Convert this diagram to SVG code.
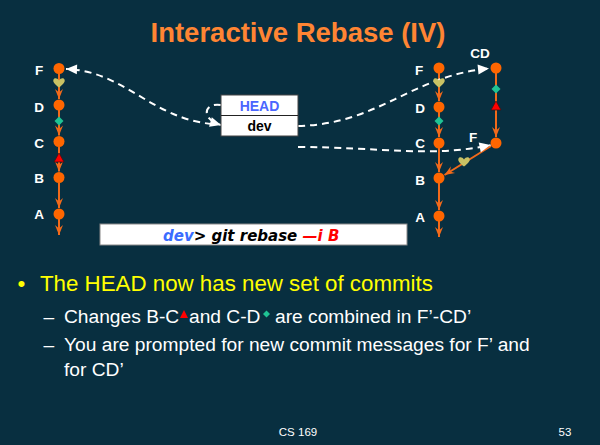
<svg xmlns="http://www.w3.org/2000/svg" width="600" height="445" viewBox="0 0 600 445">
<defs>
<marker id="oa" viewBox="-11 -5 12 10" refX="0" refY="0" markerWidth="12" markerHeight="10" markerUnits="userSpaceOnUse" orient="auto">
<path d="M-10,-4 L0,0 L-10,4 L-6.5,0 Z" fill="#f26a1b"/>
</marker>
<marker id="wa" viewBox="-12 -6 13 12" refX="0" refY="0" markerWidth="13" markerHeight="12" markerUnits="userSpaceOnUse" orient="auto">
<path d="M-11,-5 L0,0 L-11,5 Z" fill="#ffffff"/>
</marker>
<path id="heart" d="M0,4.5 C-4,1.5 -6.5,-1 -5.5,-3.5 C-4.5,-5.5 -1.5,-5 0,-2.5 C1.5,-5 4.5,-5.5 5.5,-3.5 C6.5,-1 4,1.5 0,4.5 Z" fill="#c9c264"/>
<path id="diam" d="M0,-4.5 L4.5,0 L0,4.5 L-4.5,0 Z" fill="#1fc394"/>
<path id="tri" d="M0,-5 L5,4 L-5,4 Z" fill="#ff0000" stroke="#4a1010" stroke-width="0.8"/>
</defs>
<style>
.e{stroke:#f26a1b;stroke-width:2;fill:none;marker-end:url(#oa)}
.n{fill:#ff6600}
.lb{font-family:"Liberation Sans",Arial,sans-serif;font-weight:bold;font-size:13.5px;fill:#ffffff;text-anchor:middle}
.d{stroke:#ffffff;stroke-width:2;fill:none;stroke-dasharray:7 5;marker-end:url(#wa)}
.t{font-family:"Liberation Sans",Arial,sans-serif;fill:#ffffff}
.s{font-size:19.2px}
</style>
<rect width="600" height="445" fill="#082f40"/>
<text x="298" y="42" font-family="Liberation Sans,Arial,sans-serif" font-weight="bold" font-size="27.5" fill="#ff8533" text-anchor="middle">Interactive Rebase (IV)</text>

<g id="connectors">
<line class="e" x1="59" y1="73" x2="59" y2="99"/>
<line class="e" x1="59" y1="110" x2="59" y2="135.5"/>
<line class="e" x1="59" y1="146.5" x2="59" y2="171.5"/>
<line class="e" x1="59" y1="182.5" x2="59" y2="208"/>
<line class="e" x1="59" y1="219" x2="59" y2="235"/>
<line class="e" x1="439" y1="73" x2="439" y2="101"/>
<line class="e" x1="439" y1="112" x2="439" y2="137"/>
<line class="e" x1="439" y1="148" x2="439" y2="172"/>
<line class="e" x1="439" y1="183" x2="439" y2="210"/>
<line class="e" x1="439" y1="221" x2="439" y2="237"/>
<line class="e" x1="496" y1="73" x2="496" y2="137"/>
<line class="e" x1="491" y1="146" x2="444.5" y2="175"/>
<path class="d" d="M212,124 C150,118 125,71 66,69"/>
<path class="d" d="M221,105 C204,102 200,119 221,125"/>
<path class="d" d="M298,126 C380,124 410,76 489,68.5"/>
<path class="d" d="M298,147 C380,147 430,158 490.5,145"/>
<use href="#heart" x="59" y="83"/>
<use href="#diam" x="59" y="121"/>
<use href="#tri" x="59" y="158"/>
<use href="#heart" x="439" y="83"/>
<use href="#diam" x="439" y="121"/>
<use href="#diam" x="496" y="89"/>
<use href="#tri" x="496" y="106"/>
<use href="#heart" x="464" y="162"/>
</g>

<g id="node-F-left"><circle class="n" cx="59" cy="68.5" r="5.5"/><text class="lb" x="39" y="75">F</text></g>
<g id="node-D-left"><circle class="n" cx="59" cy="105" r="5.5"/><text class="lb" x="39" y="112">D</text></g>
<g id="node-C-left"><circle class="n" cx="59" cy="141.5" r="5.5"/><text class="lb" x="39" y="148">C</text></g>
<g id="node-B-left"><circle class="n" cx="59" cy="177.5" r="5.5"/><text class="lb" x="39" y="183">B</text></g>
<g id="node-A-left"><circle class="n" cx="59" cy="214" r="5.5"/><text class="lb" x="39" y="219">A</text></g>

<g id="node-F-right"><circle class="n" cx="439" cy="68" r="5.5"/><text class="lb" x="419" y="75">F</text></g>
<g id="node-D-right"><circle class="n" cx="439" cy="107" r="5.5"/><text class="lb" x="420" y="113">D</text></g>
<g id="node-C-right"><circle class="n" cx="439" cy="143" r="5.5"/><text class="lb" x="420" y="148">C</text></g>
<g id="node-B-right"><circle class="n" cx="439" cy="178" r="5.5"/><text class="lb" x="420" y="185">B</text></g>
<g id="node-A-right"><circle class="n" cx="439" cy="216" r="5.5"/><text class="lb" x="420" y="222">A</text></g>
<g id="node-CD"><circle class="n" cx="496" cy="68" r="5.5"/><text class="lb" x="480" y="58">CD</text></g>
<g id="node-F-new"><circle class="n" cx="496" cy="143" r="5.5"/><text class="lb" x="473" y="142">F</text></g>

<g id="node-HEAD-dev">
<rect x="221" y="95" width="77" height="41" fill="#ffffff" stroke="#444444" stroke-width="1"/>
<line x1="221" y1="115.5" x2="298" y2="115.5" stroke="#222222" stroke-width="1"/>
<text x="259.5" y="111" font-family="Liberation Sans,Arial,sans-serif" font-weight="bold" font-size="14" fill="#4a66ff" text-anchor="middle">HEAD</text>
<text x="259.5" y="131" font-family="Liberation Sans,Arial,sans-serif" font-weight="bold" font-size="14" fill="#000000" text-anchor="middle">dev</text>
</g>

<g id="command">
<rect x="100" y="224" width="307" height="21" fill="#ffffff" stroke="#888888" stroke-width="1"/>
<text x="163" y="241" font-family="DejaVu Sans,sans-serif" font-weight="bold" font-style="italic" font-size="15"><tspan fill="#3a6cff">dev</tspan><tspan fill="#000000">&gt; git rebase </tspan><tspan fill="#ff0000">—i B</tspan></text>
</g>

<g id="bullets">
<text x="17.5" y="291" font-family="Liberation Sans,Arial,sans-serif" font-size="22.3" fill="#ffff00">•</text>
<text x="40" y="291" font-family="Liberation Sans,Arial,sans-serif" font-size="22.3" fill="#ffff00">The HEAD now has new set of commits</text>
<text class="t s" x="43.5" y="323">–</text>
<text class="t s" x="64" y="323">Changes B-C</text>
<path d="M184,310 L188,318 L180,318 Z" fill="#ff0000"/>
<text class="t s" x="189" y="323">and C-D</text>
<path d="M266.5,310.5 L270,314 L266.5,317.5 L263,314 Z" fill="#1fc394"/>
<text class="t s" x="275" y="323">are combined in F’-CD’</text>
<text class="t s" x="43.5" y="351">–</text>
<text class="t s" x="64" y="351">You are prompted for new commit messages for F’ and</text>
<text class="t s" x="64" y="376">for CD’</text>
</g>

<text class="t" x="298" y="436" font-size="11.5" text-anchor="middle">CS 169</text>
<text class="t" x="565" y="436" font-size="11.5" text-anchor="middle">53</text>
</svg>
